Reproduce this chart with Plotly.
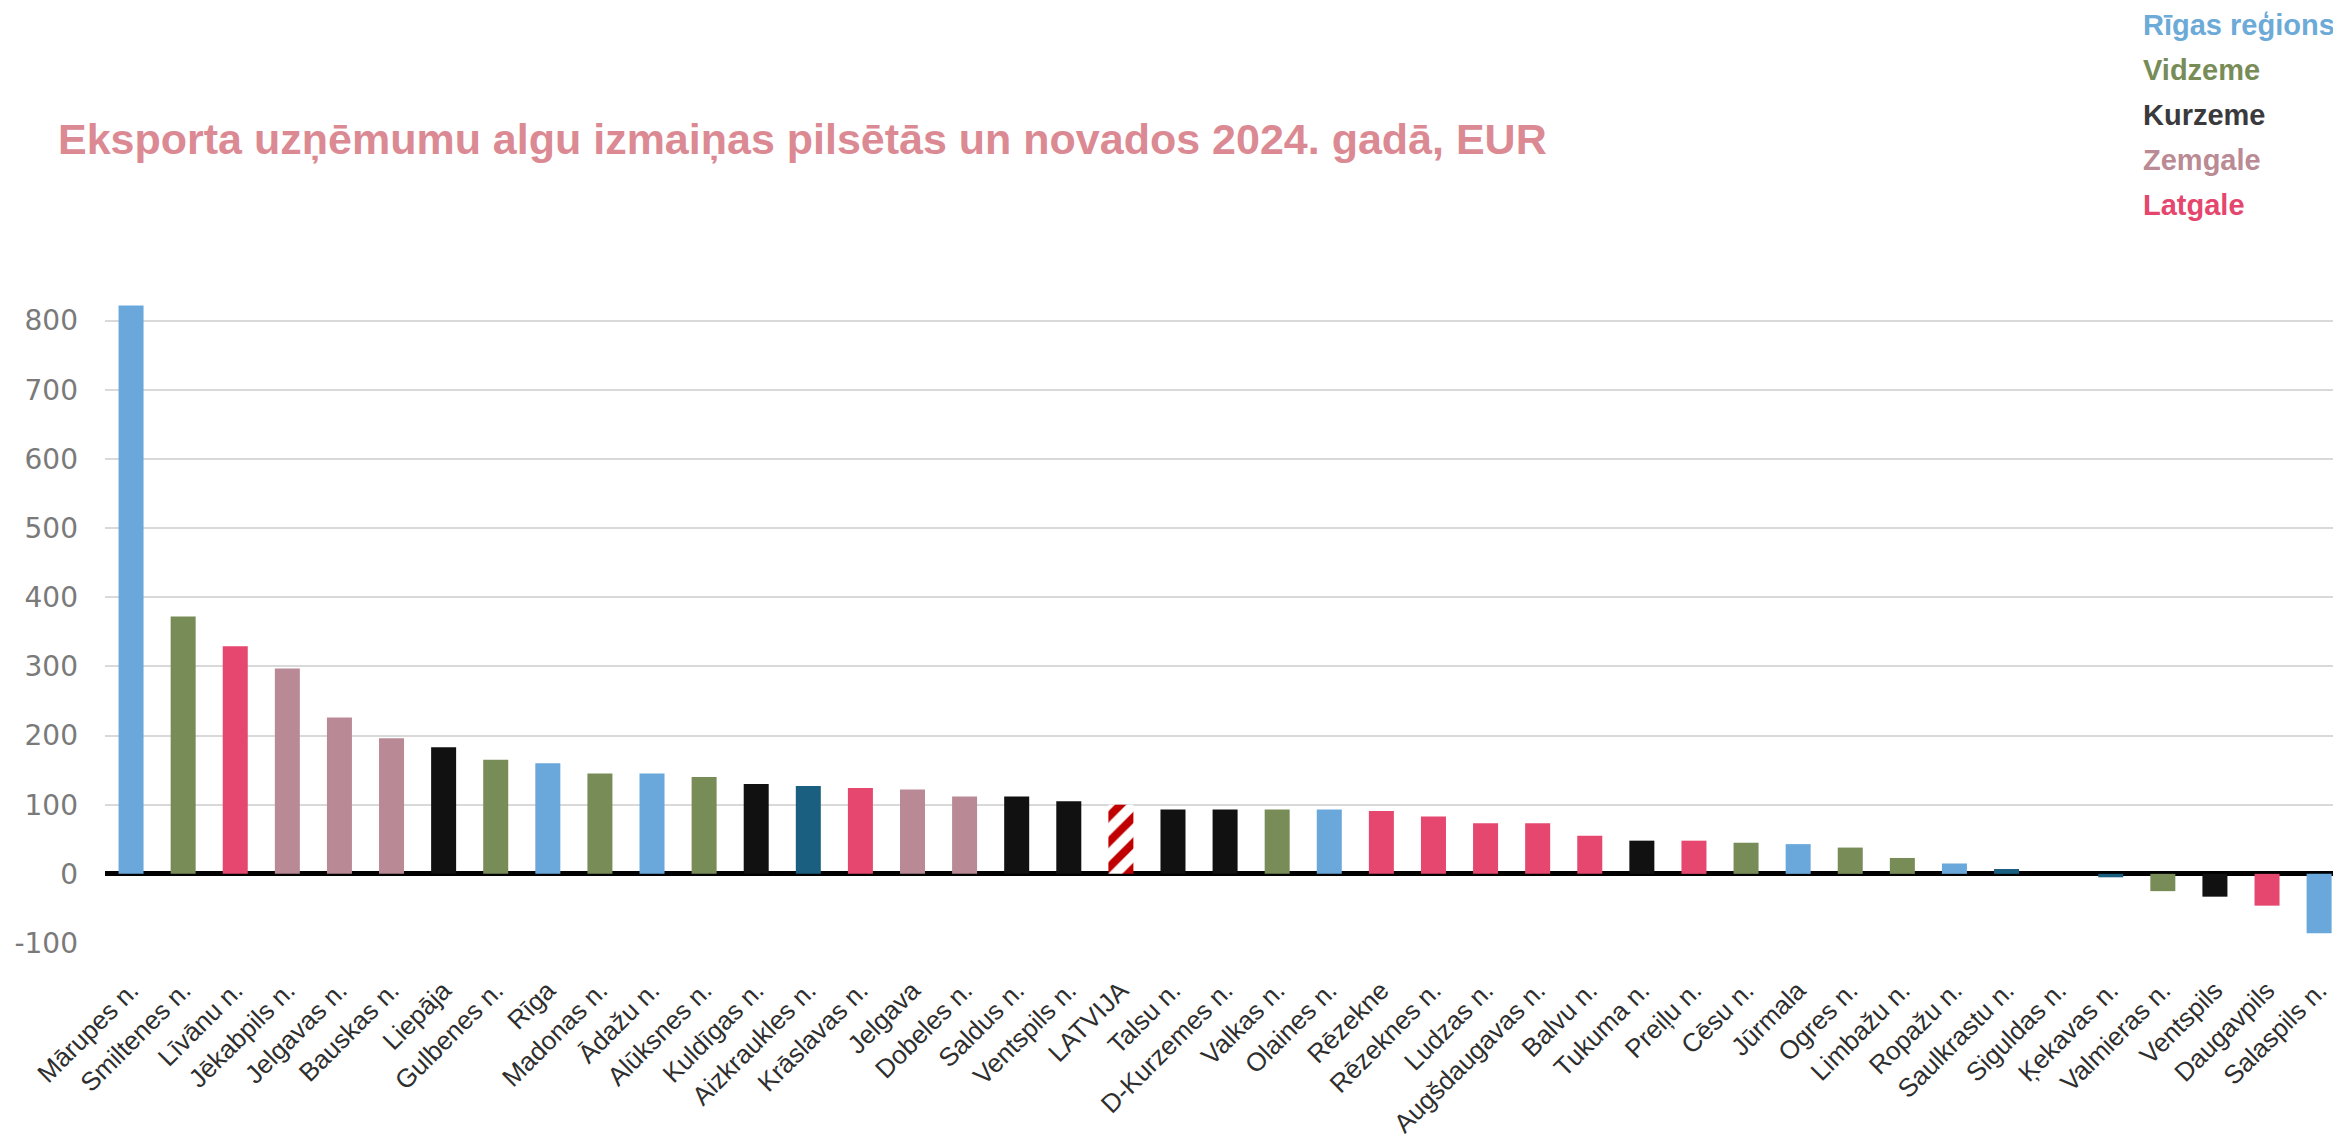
import plotly.graph_objects as go

# categories (left to right) and wage change, EUR
places = [
    "Mārupes n.", "Smiltenes n.", "Līvānu n.", "Jēkabpils n.", "Jelgavas n.",
    "Bauskas n.", "Liepāja", "Gulbenes n.", "Rīga", "Madonas n.", "Ādažu n.",
    "Alūksnes n.", "Kuldīgas n.", "Aizkraukles n.", "Krāslavas n.", "Jelgava",
    "Dobeles n.", "Saldus n.", "Ventspils n.", "LATVIJA", "Talsu n.",
    "D-Kurzemes n.", "Valkas n.", "Olaines n.", "Rēzekne", "Rēzeknes n.",
    "Ludzas n.", "Augšdaugavas n.", "Balvu n.", "Tukuma n.", "Preiļu n.",
    "Cēsu n.", "Jūrmala", "Ogres n.", "Limbažu n.", "Ropažu n.",
    "Saulkrastu n.", "Siguldas n.", "Ķekavas n.", "Valmieras n.", "Ventspils",
    "Daugavpils", "Salaspils n.",
]
change = [
    822, 372, 329, 297, 226, 196, 183, 165, 160, 145, 145, 140, 130, 127, 124,
    122, 112, 112, 105, 100, 93, 93, 93, 93, 91, 83, 73, 73, 55, 48, 48, 45,
    43, 38, 23, 15, 7, 0, -5, -25, -33, -46, -86,
]
region = [
    "R", "V", "L", "Z", "Z", "Z", "K", "V", "R", "V", "R", "V", "K", "T", "L",
    "Z", "Z", "K", "K", "LV", "K", "K", "V", "R", "L", "L", "L", "L", "L", "K",
    "L", "V", "R", "V", "V", "R", "T", "T", "T", "V", "K", "L", "R",
]

y_ticks = [-100, 0, 100, 200, 300, 400, 500, 600, 700, 800]
y_labels = ["-100", "0", "100", "200", "300", "400", "500", "600", "700", "800"]

legend_names = ["Rīgas reģions", "Vidzeme", "Kurzeme", "Zemgale", "Latgale"]
legend_colors = ["#6CAAD8", "#788C57", "#3A3A3C", "#BA8A95", "#E5466E"]

bar_colors = {
    "R": "#6AA8DB", "V": "#788C57", "K": "#111111", "Z": "#B98A95",
    "L": "#E6476F", "T": "#1A5E80", "LV": "rgba(0,0,0,0)",
}
colors = [bar_colors[r] for r in region]

# page body has an 8px margin, so the figure is drawn 8px smaller
W, H = 2341 - 8, 1141 - 8
L, T, B = 97, 285, 198
plot_h = H - T - B

fig = go.Figure()
fig.add_trace(go.Bar(
    x=places, y=change,
    marker=dict(color=colors, line=dict(width=0)),
    hovertemplate="%{x}: %{y} EUR<extra></extra>",
))

# Latvia average: red hatched bar
lv_x = [p for p, r in zip(places, region) if r == "LV"]
lv_y = [v for v, r in zip(change, region) if r == "LV"]
fig.add_trace(go.Bar(
    x=lv_x, y=lv_y,
    marker=dict(
        color="#FFFFFF", line=dict(width=0),
        pattern=dict(shape="/", fillmode="overlay", fgcolor="#C00000",
                     fgopacity=1, size=18, solidity=0.45),
    ),
    hovertemplate="%{x}: %{y} EUR<extra></extra>",
))

fig.update_layout(
    width=W, height=H,
    margin=dict(l=L, r=0, t=T, b=B, autoexpand=False),
    plot_bgcolor="white", paper_bgcolor="white",
    barmode="overlay",
    bargap=0.52,
    showlegend=False,
    font=dict(family="Liberation Sans, Arial, sans-serif"),
    title=dict(
        text="<b>Eksporta uzņēmumu algu izmaiņas pilsētās un novados 2024. gadā, EUR</b>",
        font=dict(size=43, color="#DB8A93"),
        xref="container", yref="container",
        x=50 / W, xanchor="left",
        y=1 - 131 / H, yanchor="middle",
    ),
)

fig.update_xaxes(
    range=[-0.5, 42.42],
    automargin=False,
    tickangle=-45,
    tickfont=dict(size=26, color="#2E2E2E"),
    ticklabelstandoff=26,
    showgrid=False, showline=False, ticks="",
)
fig.update_yaxes(
    range=[-100, 840],
    automargin=False,
    tickvals=y_ticks, ticktext=y_labels,
    tickfont=dict(size=28, color="#7A7A7A", family="DejaVu Sans, sans-serif"),
    ticklabelstandoff=26,
    showgrid=True, gridcolor="#D9D9D9", gridwidth=2,
    zeroline=True, zerolinecolor="#000000", zerolinewidth=5,
    showline=False,
)

# coloured region names in the top right corner
for i, (name, col) in enumerate(zip(legend_names, legend_colors)):
    ypix = 17 + i * 45
    fig.add_annotation(
        text=f"<b>{name}</b>",
        xref="paper", yref="paper",
        x=(2133 - L) / (W - L), y=(H - B - ypix) / plot_h,
        xanchor="left", yanchor="middle",
        showarrow=False,
        font=dict(size=29, color=col),
    )

fig.write_html("out.html")
